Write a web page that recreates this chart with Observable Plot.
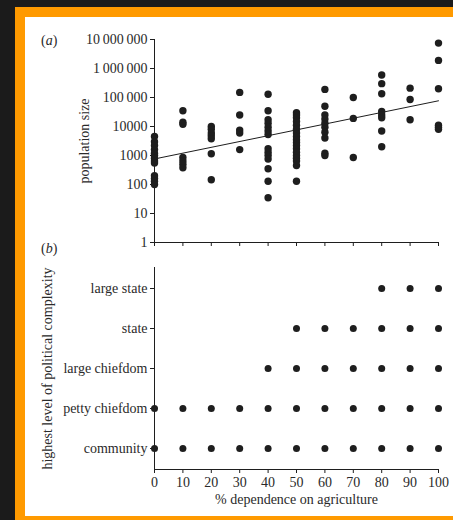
<!DOCTYPE html>
<html>
<head>
<meta charset="utf-8">
<script src="https://cdn.jsdelivr.net/npm/d3@7"></script>
<script src="https://cdn.jsdelivr.net/npm/@observablehq/plot@0.6"></script>
<style>
  html, body { margin: 0; padding: 0; background: #1b1b1b; width: 453px; height: 520px; overflow: hidden; }
  #frame { position: absolute; left: 15px; top: 7px; width: 438px; height: 513px; background: #ff9a00; }
  #panel { position: absolute; left: 25px; top: 17px; width: 428px; height: 499px; background: #fff; }
  .plot { position: absolute; left: 0; }
  .tag { position: absolute; left: 16px; font-family: "Liberation Serif", serif; font-size: 14px; color: #2a2a2a; }
  svg, svg text, svg g { font-family: "Liberation Serif", serif !important; }
</style>
</head>
<body>
<div id="frame"></div>
<div id="panel">
  <div id="pa" class="plot" style="top:0"></div>
  <div id="pb" class="plot" style="top:240px"></div>
  <div class="tag" style="top:16px">(<i>a</i>)</div>
  <div class="tag" style="top:224px">(<i>b</i>)</div>
</div>
<script>
// ---- Data: panel (a) population size by % dependence on agriculture ----
const pop0   = [4500, 3000, 2200, 1600, 1200, 1000, 800, 650, 550, 200, 160, 130, 100];
const pop10  = [35000, 14000, 12000, 850, 650, 500, 380];
const pop20  = [10000, 8000, 6000, 4800, 3800, 1150, 145];
const pop30  = [150000, 25000, 7500, 6000, 1600];
const pop40  = [130000, 35000, 17000, 13000, 9500, 7000, 5300, 1700, 1300, 1000, 750, 350, 130, 35];
const pop50  = [30000, 25000, 20000, 15000, 11000, 8000, 6000, 4500, 3500, 2800, 2200, 1700, 1300, 1000, 800, 650, 450, 130];
const pop60  = [190000, 50000, 25000, 18000, 13000, 9500, 6300, 4000, 1200, 1000];
const pop70  = [100000, 19000, 850];
const pop80  = [600000, 300000, 135000, 33000, 25000, 20000, 7000, 2000];
const pop90  = [210000, 85000, 17000];
const pop100 = [7500000, 1900000, 200000, 11000, 9500, 8000];
const agriLevels = [0, 10, 20, 30, 40, 50, 60, 70, 80, 90, 100];
const popSeries = [pop0, pop10, pop20, pop30, pop40, pop50, pop60, pop70, pop80, pop90, pop100];

// regression line end points
const fitX = [0, 100];
const fitY = [760, 77000];

// axis ticks
const xTicks = [0, 10, 20, 30, 40, 50, 60, 70, 80, 90, 100];
const yTicks = [1, 10, 100, 1000, 10000, 100000, 1000000, 10000000];

// ---- Data: panel (b) highest level of political complexity ----
const complexityLevels = ["large state", "state", "large chiefdom", "petty chiefdom", "community"];
const largeStateX    = [80, 90, 100];
const stateX         = [50, 60, 70, 80, 90, 100];
const largeChiefdomX = [40, 50, 60, 70, 80, 90, 100];
const pettyChiefdomX = [0, 10, 20, 30, 40, 50, 60, 70, 80, 90, 100];
const communityX     = [0, 10, 20, 30, 40, 50, 60, 70, 80, 90, 100];
const complexitySeries = [largeStateX, stateX, largeChiefdomX, pettyChiefdomX, communityX];

// build tables
const popData = popSeries.flatMap((vals, i) => vals.map(v => ({x: agriLevels[i], y: v})));
const fitData = fitX.map((x, i) => ({x, y: fitY[i]}));
const cxData = complexitySeries.flatMap((xs, i) => xs.map(x => ({x, level: complexityLevels[i]})));

const ink = "#1e1e1e";
const textCol = "#2a2a2a";
const style = {fontFamily: "Liberation Serif", fontSize: "14px", color: textCol, background: "transparent", overflow: "visible"};
const yFmt = d => d >= 100000 ? d3.format(",")(d).replace(/,/g, "\u2009") : String(d);

const pa = Plot.plot({
  width: 428, height: 240,
  marginLeft: 129, marginRight: 15, marginTop: 22, marginBottom: 15,
  style,
  x: {domain: [0, 100]},
  y: {type: "log", domain: [1, 10000000]},
  marks: [
    Plot.axisY({ticks: yTicks, tickFormat: yFmt, tickSize: 4, tickPadding: 3, label: null, stroke: ink}),
    Plot.axisX({ticks: xTicks, tickFormat: () => "", tickSize: 4, label: null, stroke: ink}),
    Plot.frame({anchor: "left", stroke: ink}),
    Plot.frame({anchor: "bottom", stroke: ink}),
    Plot.line(fitData, {x: "x", y: "y", stroke: ink, strokeWidth: 1}),
    Plot.dot(popData, {x: "x", y: "y", r: 3.7, fill: ink, stroke: "none"}),
    Plot.text(["population size"], {frameAnchor: "left", textAnchor: "middle", dx: -70, rotate: -90, fill: textCol, fontSize: 14})
  ]
});
document.getElementById("pa").append(pa);

const pb = Plot.plot({
  width: 428, height: 259,
  marginLeft: 129, marginRight: 15, marginTop: 10, marginBottom: 47,
  style,
  x: {domain: [0, 100]},
  y: {type: "point", domain: complexityLevels, padding: 0.5},
  marks: [
    Plot.axisY({tickSize: 4, tickPadding: 3, label: null, stroke: ink}),
    Plot.axisX({ticks: xTicks, tickSize: 4, tickPadding: 4, label: null, stroke: ink}),
    Plot.frame({anchor: "left", stroke: ink}),
    Plot.frame({anchor: "bottom", stroke: ink}),
    Plot.dot(cxData, {x: "x", y: "level", r: 3.5, fill: ink, stroke: "none"}),
    Plot.text(["highest level of political complexity"], {frameAnchor: "left", textAnchor: "middle", dx: -107, rotate: -90, fill: textCol, fontSize: 14}),
    Plot.text(["% dependence on agriculture"], {frameAnchor: "bottom", dy: 34, fill: textCol, fontSize: 14})
  ]
});
document.getElementById("pb").append(pb);
</script>
</body>
</html>
